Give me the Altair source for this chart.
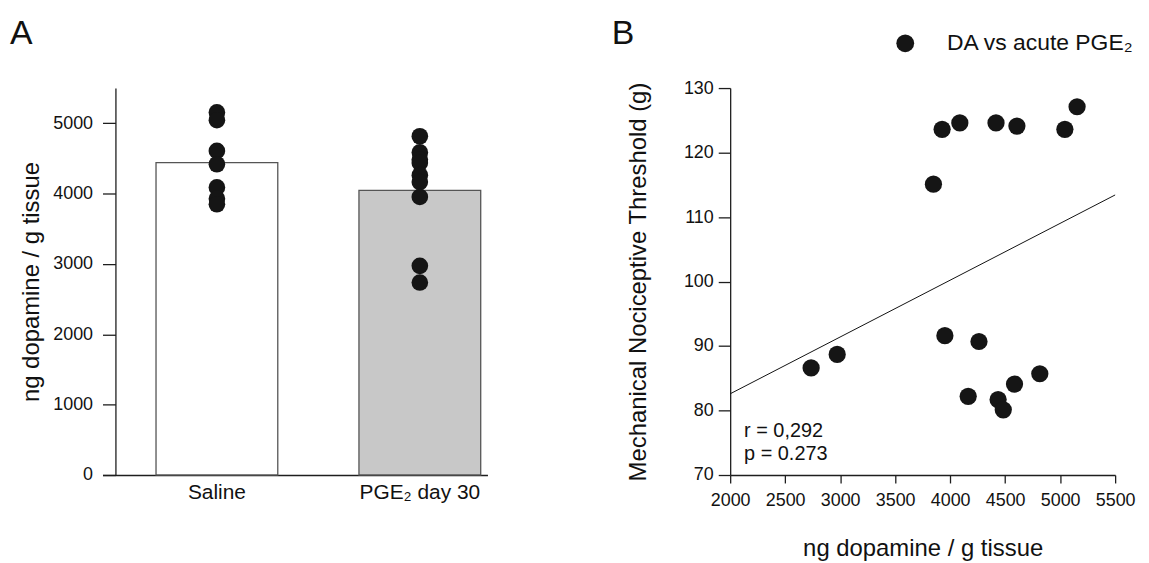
import altair as alt
import pandas as pd

# ---------------- data ----------------
categories = ["Saline", "PGE₂ day 30"]
saline_da = [5154, 5043, 4607, 4417, 4088, 3927, 3848]
pge2_da = [4815, 4585, 4483, 4436, 4262, 4164, 3952, 2973, 2736]

scatter_da = [2736, 2973, 3848, 3927, 3952, 4088, 4164, 4262,
              4417, 4436, 4483, 4585, 4607, 4815, 5043, 5154]
scatter_thr = [86.6, 88.7, 115.1, 123.6, 91.6, 124.6, 82.2, 90.7,
               124.6, 81.7, 80.1, 84.1, 124.1, 85.7, 123.6, 127.1]
series_name = "DA vs acute PGE₂"
stats_text = "r = 0,292\np = 0.273"

y_ticks_a = [0, 1000, 2000, 3000, 4000, 5000]
x_ticks_b = [2000, 2500, 3000, 3500, 4000, 4500, 5000, 5500]
y_ticks_b = [70, 80, 90, 100, 110, 120, 130]

FONT = "Liberation Sans"
AX = "#1e1e1e"
DOT = "#151515"

dfA = pd.DataFrame({
    "group": [categories[0]] * len(saline_da) + [categories[1]] * len(pge2_da),
    "da": saline_da + pge2_da,
})
dfB = pd.DataFrame({"da": scatter_da, "thr": scatter_thr})

W, H = 387, 389

# ---------------- panel A ----------------
xA_scale = alt.Scale(domain=categories, paddingInner=0.4, paddingOuter=0.1485, align=0.888)
xA_axis = alt.Axis(title=None, labelAngle=0, ticks=False, labelFontSize=21,
                   labelPadding=7, domainColor=AX, domainWidth=1.3, labelColor="#111")
yA_scale = alt.Scale(domain=[0, 5500], nice=False, zero=True)
yA_axis = alt.Axis(values=y_ticks_a, format="d", tickSize=13, offset=-13, grid=False,
                   title="ng dopamine / g tissue", titleFontSize=24,
                   titleFontWeight="normal", titlePadding=9, titleColor="#111",
                   labelFontSize=18, labelPadding=10, labelColor="#111",
                   domainColor=AX, tickColor=AX, domainWidth=1.3, tickWidth=1.3)

bars = alt.Chart(dfA).mark_bar(stroke="#555555", strokeWidth=1.3).encode(
    x=alt.X("group:N", sort=categories, scale=xA_scale, axis=xA_axis),
    y=alt.Y("mean(da):Q", scale=yA_scale, axis=yA_axis),
    fill=alt.Fill("group:N", scale=alt.Scale(domain=categories, range=["#ffffff", "#c8c8c8"]),
                  legend=None),
)
dotsA = alt.Chart(dfA).mark_circle(size=280, color=DOT, opacity=1).encode(
    x=alt.X("group:N", sort=categories),
    y=alt.Y("da:Q"),
)
letterA = alt.Chart(pd.DataFrame({"t": ["A"]})).mark_text(
    fontSize=34, align="left", baseline="alphabetic", color="#111", font=FONT
).encode(text="t:N", x=alt.value(-93), y=alt.value(-44))

panelA = alt.layer(bars, dotsA, letterA).properties(width=W, height=H)

# ---------------- panel B ----------------
xB_scale = alt.Scale(domain=[2000, 5500], nice=False, zero=False)
yB_scale = alt.Scale(domain=[70, 130], nice=False, zero=False)
xB_axis = alt.Axis(values=x_ticks_b, format="d", tickSize=8, grid=False,
                   labelOverlap=False, labelFlush=False,
                   title="ng dopamine / g tissue", titleFontSize=24,
                   titleFontWeight="normal", titlePadding=27, titleColor="#111",
                   labelFontSize=18, labelPadding=9, labelColor="#111",
                   domainColor=AX, tickColor=AX, domainWidth=1.3, tickWidth=1.3)
yB_axis = alt.Axis(values=y_ticks_b, format="d", tickSize=12, grid=False,
                   labelOverlap=False, labelFlush=False,
                   title="Mechanical Nociceptive Threshold (g)", titleFontSize=24,
                   titleFontWeight="normal", titlePadding=33, titleColor="#111",
                   labelFontSize=18, labelPadding=5, labelColor="#111",
                   domainColor=AX, tickColor=AX, domainWidth=1.3, tickWidth=1.3)

ptsB = alt.Chart(dfB).mark_circle(size=300, color=DOT, opacity=1).encode(
    x=alt.X("da:Q", scale=xB_scale, axis=xB_axis),
    y=alt.Y("thr:Q", scale=yB_scale, axis=yB_axis),
)
regB = alt.Chart(dfB).transform_regression(
    "da", "thr", extent=[2000, 5500]
).mark_line(color="#111", strokeWidth=1).encode(
    x=alt.X("da:Q", scale=xB_scale),
    y=alt.Y("thr:Q", scale=yB_scale),
)
statsB = alt.Chart(pd.DataFrame({"t": [stats_text]})).mark_text(
    fontSize=20, align="left", baseline="alphabetic", lineBreak="\n",
    lineHeight=23, color="#111", font=FONT
).encode(text="t:N", x=alt.value(14), y=alt.value(351))
letterB = alt.Chart(pd.DataFrame({"t": ["B"]})).mark_text(
    fontSize=34, align="left", baseline="alphabetic", color="#111", font=FONT
).encode(text="t:N", x=alt.value(-119), y=alt.value(-44))

# legend (symbol + label) drawn inside panel B
legSym = alt.Chart(pd.DataFrame({"s": [series_name]})).mark_circle(
    size=320, color=DOT, opacity=1
).encode(x=alt.value(176), y=alt.value(-45))
legText = alt.Chart(pd.DataFrame({"s": [series_name]})).mark_text(
    fontSize=23, align="left", baseline="alphabetic", color="#111", font=FONT
).encode(text="s:N", x=alt.value(218), y=alt.value(-38))

panelB = alt.layer(regB, ptsB, statsB, letterB, legSym, legText).properties(width=W, height=H)

chart = alt.hconcat(panelA, panelB, spacing=125).properties(
    padding={"left": 2, "top": 8, "right": 5, "bottom": 5}
).configure(font=FONT).configure_view(stroke=None).configure_axis(
    labelFont=FONT, titleFont=FONT
)

chart.save("out.html", embed_options={"renderer": "svg", "actions": False})
